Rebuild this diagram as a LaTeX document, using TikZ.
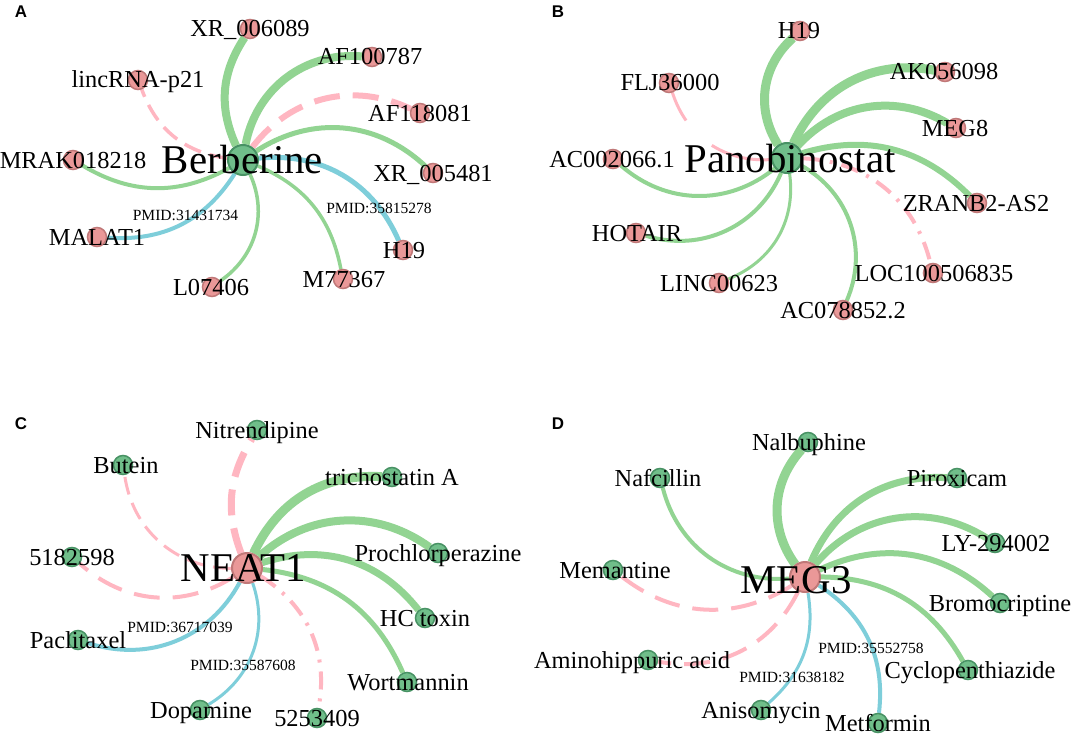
\documentclass[tikz,border=0pt]{standalone}
\usepackage{fontspec}
\setmainfont{Liberation Serif}
\setsansfont{Liberation Sans}

\pgfdeclarelayer{background}
\pgfdeclarelayer{edges}
\pgfsetlayers{background,edges,main}

\definecolor{edgegreen}{RGB}{146,212,146}
\definecolor{edgepink}{RGB}{255,182,193}
\definecolor{edgeblue}{RGB}{126,206,218}
\definecolor{rnafill}{RGB}{234,152,152}
\definecolor{rnaline}{RGB}{192,120,120}
\definecolor{drugfill}{RGB}{112,190,138}
\definecolor{drugline}{RGB}{72,146,100}

\tikzset{
  gedge/.style={draw=edgegreen, line width=#1bp},
  bedge/.style={draw=edgeblue, line width=#1bp},
  pedge/.style={draw=edgepink, line width=#1bp, dash pattern=on 18bp off 9bp},
  longdash/.style={dash pattern=on 26bp off 13bp},
  dashdot/.style={dash pattern=on 18bp off 9bp on 3bp off 9bp},
  sparsedash/.style={dash pattern=on 62bp off 36bp},
  rna/.style={circle, fill=rnafill, draw=rnaline, line width=1.5bp, minimum size=19bp, inner sep=0pt},
  drug/.style={circle, fill=drugfill, draw=drugline, line width=1.5bp, minimum size=19bp, inner sep=0pt},
  hubsize/.style={minimum size=30bp, line width=2bp},
  leaf/.style={font=\fontsize{24.5}{24.5}\selectfont, inner sep=0pt, text height=16bp, text depth=0pt},
  hubtext/.style={font=\fontsize{41}{41}\selectfont, inner sep=0pt, text height=26.9bp, text depth=0pt},
  pmid/.style={font=\fontsize{15.6}{15.6}\selectfont, inner sep=0pt, text height=10.2bp, text depth=0pt},
  panel/.style={font=\fontsize{17}{17}\sffamily\bfseries\selectfont, inner sep=0pt, text height=12.2bp, text depth=0pt}
}

\begin{document}
\begin{tikzpicture}[x=1bp, y=-1bp]
\begin{pgfonlayer}{background}
\fill[white] (0,0) rectangle (1072,736);
\end{pgfonlayer}
\useasboundingbox (0,0) rectangle (1072,736);

% Panel letters
\node[panel] (lA) at (21,11) {A};
\node[panel] (lB) at (558,11) {B};
\node[panel] (lC) at (21,423) {C};
\node[panel] (lD) at (558,423) {D};

% A: Berberine and its lncRNAs
\node[drug, hubsize] (hA) at (243,160) {};
\foreach \n/\px/\py/\t/\dx in {a1/250/29/{XR\_006089}/0, a2/138/80/{lincRNA-p21}/0,
    a3/372/57/{AF100787}/-2, a4/420/113/{AF118081}/0, a5/433/173/{XR\_005481}/0,
    a6/73/160/{MRAK018218}/0, a7/97/237/{MALAT1}/0, a8/212/287/{L07406}/-1,
    a9/343/279/{M77367}/1, a10/403/250/{H19}/1} {
  \node[rna] (\n) at (\px,\py) {};
  \node[leaf] (\n l) at (\px+\dx,\py) {\t};
}
\node[hubtext] (hAl) at (242.5,160) {Berberine};
\node[pmid] (pA1) at (185.5,215) {PMID:31431734};
\node[pmid] (pA2) at (379,208) {PMID:35815278};

% B: Panobinostat and its lncRNAs
\node[drug, hubsize] (hB) at (787,158) {};
\foreach \n/\px/\py/\t/\dx in {b1/800/31/{H19}/-1, b2/669/83/{FLJ36000}/1,
    b3/945/72/{AK056098}/-1, b4/956/128/{MEG8}/-1, b5/977/203/{ZRANB2-AS2}/-1,
    b6/933/273/{LOC100506835}/1, b7/843/310/{AC078852.2}/0, b8/719/283/{LINC00623}/0,
    b9/636/233/{HOTAIR}/1, b10/613/159/{AC002066.1}/-1} {
  \node[rna] (\n) at (\px,\py) {};
  \node[leaf] (\n l) at (\px+\dx,\py) {\t};
}
\node[hubtext] (hBl) at (790,159.5) {Panobinostat};

% C: NEAT1 and its drugs
\node[rna, hubsize] (hC) at (247,568) {};
\foreach \n/\px/\py/\t/\dx in {c1/257/430/{Nitrendipine}/0, c2/123/465/{Butein}/3,
    c3/392/477/{trichostatin A}/0, c4/438/553/{Prochlorperazine}/0, c5/425/618/{HC toxin}/0,
    c6/407/682/{Wortmannin}/1, c7/317/718/{5253409}/0, c8/200/710/{Dopamine}/1,
    c9/78/640/{Paclitaxel}/0, c10/72/557/{5182598}/0} {
  \node[drug] (\n) at (\px,\py) {};
  \node[leaf] (\n l) at (\px+\dx,\py) {\t};
}
\node[hubtext] (hCl) at (243,568.5) {NEAT1};
\node[pmid] (pC1) at (180,627) {PMID:36717039};
\node[pmid] (pC2) at (243,665) {PMID:35587608};

% D: MEG3 and its drugs
\node[rna, hubsize] (hD) at (805,577) {};
\foreach \n/\px/\py/\t/\dx in {d1/808/442/{Nalbuphine}/1, d2/660/478/{Nafcillin}/-2,
    d3/957/478/{Piroxicam}/0, d4/995/543/{LY-294002}/1, d5/1000/603/{Bromocriptine}/0,
    d6/968/670/{Cyclopenthiazide}/2, d7/878/723/{Metformin}/0, d8/761/710/{Anisomycin}/0,
    d9/648/660/{Aminohippuric acid}/-16, d10/613/570/{Memantine}/2} {
  \node[drug] (\n) at (\px,\py) {};
  \node[leaf] (\n l) at (\px+\dx,\py) {\t};
}
\node[hubtext] (hDl) at (796,580) {MEG3};
\node[pmid] (pD1) at (871,648) {PMID:35552758};
\node[pmid] (pD2) at (792,677) {PMID:31638182};

% Edges under everything
\begin{pgfonlayer}{edges}
\draw[gedge=8] (hA) to[bend left=29] (a1);
\draw[pedge=3.5] (hA) to[bend left=31] (a2);
\draw[gedge=8] (hA) to[bend left=42] (a3);
\draw[pedge=6, longdash] (hA) to[bend left=39] (a4);
\draw[gedge=5] (hA) to[bend left=38] (a5);
\draw[gedge=4] (hA) to[bend left=30] (a6);
\draw[bedge=4] (hA) to[bend left=31] (a7);
\draw[gedge=3.5] (hA) to[bend left=40] (a8);
\draw[gedge=3.5] (hA) to[bend left=28] (a9);
\draw[bedge=5] (hA) to[bend left=36] (a10);

\draw[gedge=9] (hB) to[bend left=40] (b1);
\draw[pedge=3, sparsedash] (hB) to[bend left=38] (b2);
\draw[gedge=9] (hB) to[bend left=38] (b3);
\draw[gedge=8] (hB) to[bend left=39] (b4);
\draw[gedge=6] (hB) to[bend left=31] (b5);
\draw[pedge=4, dashdot] (hB) to[bend left=37] (b6);
\draw[gedge=4] (hB) to[bend left=42] (b7);
\draw[gedge=3] (hB) to[bend left=38] (b8);
\draw[gedge=4] (hB) to[bend left=42] (b9);
\draw[gedge=4] (hB) to[bend left=40] (b10);

\draw[pedge=7, longdash] (hC) to[bend left=26] (c1);
\draw[pedge=3] (hC) to[bend left=41] (c2);
\draw[gedge=9] (hC) to[bend left=34] (c3);
\draw[gedge=8] (hC) to[bend left=39] (c4);
\draw[gedge=7] (hC) to[bend left=35] (c5);
\draw[gedge=5] (hC) to[bend left=30] (c6);
\draw[pedge=4, dashdot] (hC) to[bend left=34] (c7);
\draw[bedge=3] (hC) to[bend left=39] (c8);
\draw[bedge=4] (hC) to[bend left=40] (c9);
\draw[pedge=4, longdash] (hC) to[bend left=37] (c10);

\draw[gedge=9] (hD) to[bend left=39] (d1);
\draw[gedge=4] (hD) to[bend left=40] (d2);
\draw[gedge=7] (hD) to[bend left=35] (d3);
\draw[gedge=7] (hD) to[bend left=41] (d4);
\draw[gedge=6] (hD) to[bend left=34] (d5);
\draw[gedge=5] (hD) to[bend left=30] (d6);
\draw[bedge=4] (hD) to[bend left=32] (d7);
\draw[bedge=3] (hD) to[bend left=29] (d8);
\draw[pedge=4, longdash] (hD) to[bend left=37] (d9);
\draw[pedge=4, longdash] (hD) to[bend left=35] (d10);
\end{pgfonlayer}
\end{tikzpicture}
\end{document}
